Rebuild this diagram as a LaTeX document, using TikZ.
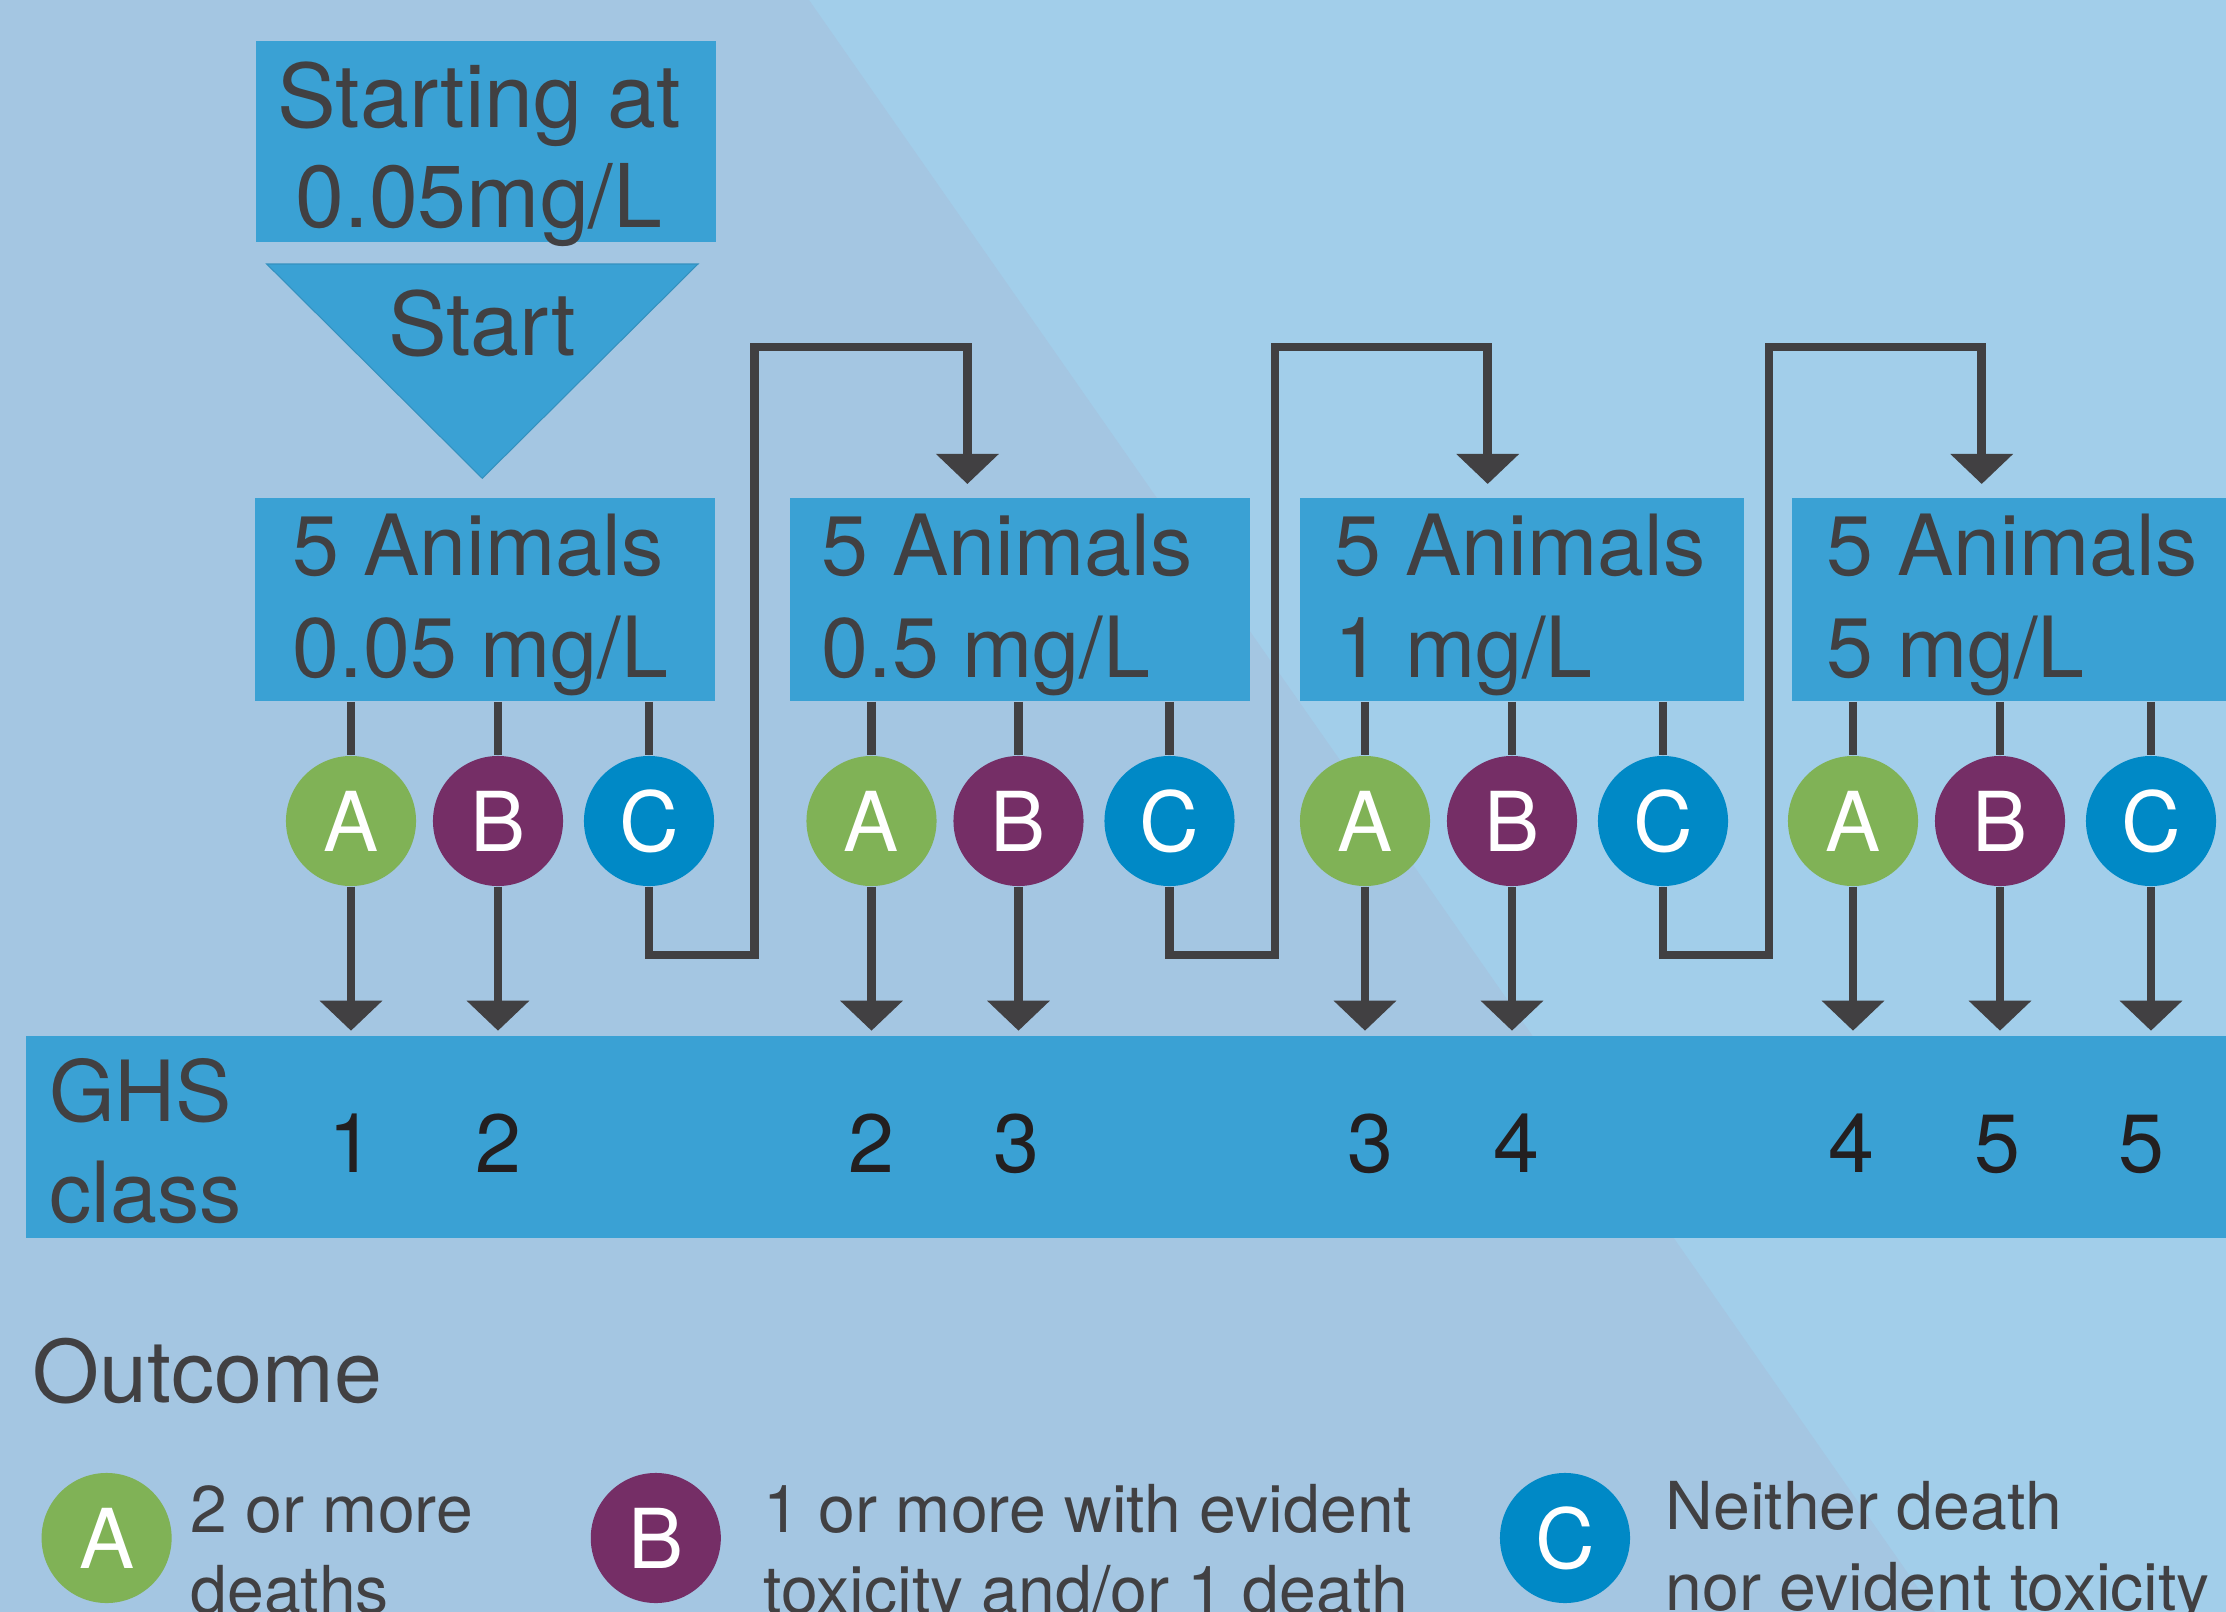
\documentclass[tikz,border=0pt]{standalone}
\usepackage{fontspec}
\setmainfont{TeX Gyre Heros}
\usetikzlibrary{arrows.meta}

\definecolor{bgleft}{RGB}{164,198,226}
\definecolor{bgright}{RGB}{162,206,234}
\definecolor{boxblue}{RGB}{58,161,212}
\definecolor{ink}{RGB}{65,64,66}
\definecolor{numink}{RGB}{35,31,32}
\definecolor{outA}{RGB}{128,178,86}
\definecolor{outB}{RGB}{117,46,102}
\definecolor{outC}{RGB}{0,137,198}

\tikzset{
  panel/.style={fill=boxblue, inner sep=0pt, anchor=north west, minimum height=2.026cm},
  % multi-line texts sit on the baseline of their last line
  paneltext/.style={text=ink, font=\fontsize{24}{29}\selectfont, align=left, anchor=base west, inner sep=0pt},
  outcome/.style={circle, fill=#1, minimum size=1.30cm, inner sep=0pt, text=white, font=\fontsize{23.5}{28}\selectfont},
  link/.style={draw=ink, line width=2.42pt},
  down/.style={link, -{Triangle[length=0.30cm,width=0.61cm]}},
  ghsnum/.style={text=numink, font=\fontsize{23.5}{28}\selectfont, anchor=base, inner sep=0pt},
  legendtext/.style={text=ink, font=\fontsize{18.8}{23}\selectfont, align=left, anchor=base west, inner sep=0pt}
}

\begin{document}
\begin{tikzpicture}[x=0.01cm,y=-0.01cm]
  \useasboundingbox (0,0) rectangle (2226,1612);
  % two-tone background
  \fill[bgright] (0,0) rectangle (2226,1612);
  \fill[bgleft] (0,0) -- (809,0) -- (1935,1612) -- (0,1612) -- cycle;

  % start marker
  \node[panel, minimum width=4.60cm, minimum height=2.015cm] (startbox) at (255.5,40.1) {};
  \node[text=ink, font=\fontsize{25}{28.5}\selectfont, align=center, anchor=base, inner sep=0pt] (starttext) at (479,227.8) {Starting at\\0.05mg/L};
  \filldraw[fill=boxblue, draw=boxblue!90!black, line width=0.3pt] (266.7,264) -- (698,264) -- (482.3,478.3) -- cycle;
  \node[text=ink, font=\fontsize{25}{28}\selectfont, anchor=base, inner sep=0pt] (start) at (482,355.8) {Start};

  % dose groups
  \node[panel, minimum width=4.60cm] (box1) at (254,497.7) {};
  \node[panel, minimum width=4.596cm] (box2) at (789,497.7) {};
  \node[panel, minimum width=4.44cm] (box3) at (1299,497.7) {};
  \node[panel, minimum width=4.40cm] (box4) at (1790.8,497.7) {};
  \node[paneltext] (box1t) at (292,677.6) {5 Animals\\0.05 mg/L};
  \node[paneltext] (box2t) at (821,677.6) {5 Animals\\0.5 mg/L};
  \node[paneltext] (box3t) at (1334,677.6) {5 Animals\\1 mg/L};
  \node[paneltext] (box4t) at (1826,677.6) {5 Animals\\5 mg/L};

  % GHS class bar
  \node[panel, minimum width=22.10cm, minimum height=2.02cm] (ghs) at (24.8,1034.8) {};
  \node[text=ink, font=\fontsize{24}{28.5}\selectfont, align=left, anchor=base west, inner sep=0pt] (ghst) at (48.5,1222) {GHS\\class};
  \coordinate (tipline) at (0,1030.7);
  \coordinate (numline) at (0,1172);

  % outcome circles per group
  \foreach \n/\ax in {1/351,2/871.5,3/1365,4/1853} {
    \node[outcome=outA] (a\n) at (\ax,821) {A};
    \node[outcome=outB] (b\n) at (\ax+147,821) {B};
    \node[outcome=outC] (c\n) at (\ax+298,821) {C};
    \foreach \o in {a,b,c}
      \draw[link] (box\n.south -| \o\n) -- (\o\n.north);
  }

  % outcomes A and B end in a class
  \foreach \o in {a1,b1,a2,b2,a3,b3,a4,b4,c4}
    \draw[down] (\o.south) -- (\o |- tipline);
  \foreach \o/\cls/\dx in {a1/1/0,b1/2/0,a2/2/0,b2/3/-2,a3/3/5,b3/4/4,a4/4/-2,b4/5/-3,c4/5/-10}
    \node[ghsnum] (n\o) at ([xshift=\dx*0.01cm]\o |- numline) {\cls};

  % outcome C steps up to the next dose
  \coordinate (loop1) at (754.4,955);
  \coordinate (over1) at (754.4,347);
  \coordinate (in2) at (967.4,484);
  \coordinate (loop2) at (1274.8,955);
  \coordinate (over2) at (1274.8,347);
  \coordinate (in3) at (1487.7,484);
  \coordinate (loop3) at (1768.8,955);
  \coordinate (over3) at (1768.8,347);
  \coordinate (in4) at (1981.7,484);
  \draw[down] (c1.south) |- (loop1) -- (over1) -| (in2);
  \draw[down] (c2.south) |- (loop2) -- (over2) -| (in3);
  \draw[down] (c3.south) |- (loop3) -- (over3) -| (in4);

  % legend
  \node[text=ink, font=\fontsize{24.5}{28}\selectfont, anchor=base west, inner sep=0pt] (outcome) at (32,1402) {Outcome};
  \node[outcome=outA] (la) at (106.6,1538) {A};
  \node[outcome=outB] (lb) at (655.8,1538) {B};
  \node[outcome=outC] (lc) at (1565,1538) {C};
  \node[legendtext] (lat) at (190,1613.5) {2 or more\\deaths};
  \node[legendtext] (lbt) at (763,1613.5) {1 or more with evident\\toxicity and/or 1 death};
  \node[legendtext] (lct) at (1665,1610) {Neither death\\nor evident toxicity};
\end{tikzpicture}
\end{document}
